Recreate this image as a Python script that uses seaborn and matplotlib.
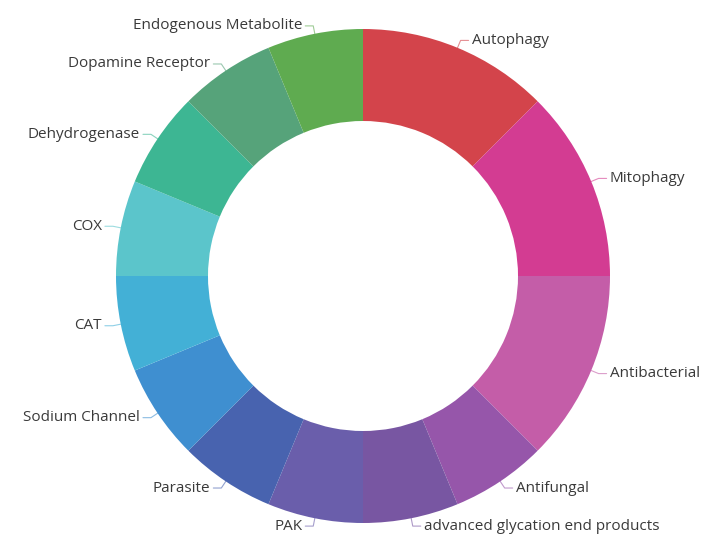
import numpy as np
import matplotlib
matplotlib.use('Agg')
import matplotlib.pyplot as plt
import seaborn as sns

categories = ['Autophagy', 'Mitophagy', 'Antibacterial', 'Antifungal',
              'advanced glycation end products', 'PAK', 'Parasite',
              'Sodium Channel', 'CAT', 'COX', 'Dehydrogenase',
              'Dopamine Receptor', 'Endogenous Metabolite']
values = [2, 2, 2, 1, 1, 1, 1, 1, 1, 1, 1, 1, 1]
colors = ['#d3444b', '#d33c92', '#c45da8', '#9656aa', '#7856a2', '#6a5eab',
          '#4863af', '#3f8fd0', '#43b0d6', '#5bc5cb', '#3db693', '#56a37a',
          '#5fab50']

sns.set_theme(style='white')
plt.rcParams['font.family'] = ['Open Sans', 'DejaVu Sans']

W, H = 706, 534
cx, cy, R = 363, 276, 247
fig = plt.figure(figsize=(W / 100, H / 100), dpi=100)
ax = fig.add_axes([(cx - R) / W, (H - cy - R) / H, 2 * R / W, 2 * R / H])

wedges, _ = ax.pie(values, colors=colors, startangle=90, counterclock=False,
                   radius=1, wedgeprops=dict(width=1 - 155 / R, linewidth=0))
ax.set_xlim(-1, 1)
ax.set_ylim(-1, 1)
ax.axis('off')

px = 1 / R  # one pixel in data units
for w, name, c in zip(wedges, categories, colors):
    mid = np.deg2rad((w.theta1 + w.theta2) / 2)
    x0, y0 = np.cos(mid), np.sin(mid)
    x1, y1 = (1 + 8 * px) * x0, (1 + 8 * px) * y0
    side = 1 if x0 >= 0 else -1
    x2 = x1 + side * 8 * px
    ax.plot([x0, x1, x2], [y0, y1, y1], color=c, lw=0.8, alpha=0.6,
            clip_on=False)
    ax.text(x2 + side * 3 * px, y1, name, ha='left' if side > 0 else 'right',
            va='center', fontsize=11, color='#3a3a3a', clip_on=False)

fig.savefig('out.png', dpi=100, facecolor='white')
